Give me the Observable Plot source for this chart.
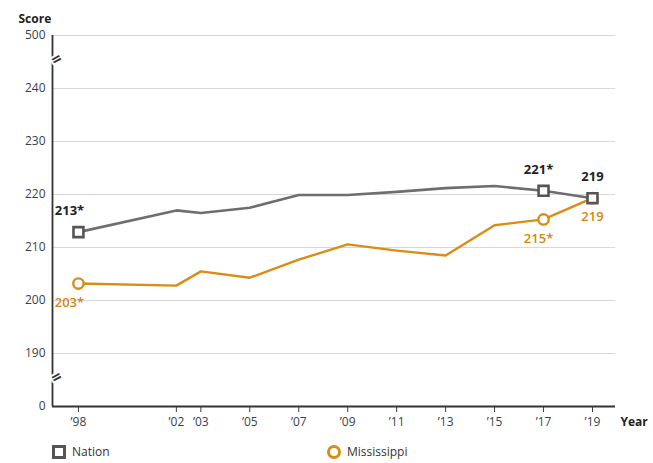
<!DOCTYPE html>
<html>
<head>
<meta charset="utf-8">
<script src="https://cdn.jsdelivr.net/npm/d3@7"></script>
<script src="https://cdn.jsdelivr.net/npm/@observablehq/plot@0.6"></script>
<style>
  body { margin: 0; background: #fff; font-family: "Open Sans", sans-serif; }
  #legend { position: relative; height: 23px; font-size: 12px; color: #333; }
  .item { position: absolute; top: 3px; display: flex; align-items: center; gap: 6px; }
  .sq { width: 8px; height: 8px; border: 3px solid #555; background: #fff; }
  .ci { width: 8px; height: 8px; border: 3px solid #d98c16; border-radius: 50%; background: #fff; }
</style>
</head>
<body>
<div id="chart"></div>
<div id="legend">
  <div class="item" style="left:52px"><div class="sq"></div><span>Nation</span></div>
  <div class="item" style="left:327px"><div class="ci"></div><span>Mississippi</span></div>
</div>
<script>
const years = [1998, 2002, 2003, 2005, 2007, 2009, 2011, 2013, 2015, 2017, 2019];
const nation = [212.9, 217.0, 216.5, 217.5, 219.9, 219.9, 220.5, 221.2, 221.6, 220.7, 219.3];
const mississippi = [203.2, 202.8, 205.5, 204.3, 207.7, 210.6, 209.4, 208.5, 214.2, 215.3, 219.3];
const nationLabels = ["213*", "", "", "", "", "", "", "", "", "221*", "219"];
const msLabels = ["203*", "", "", "", "", "", "", "", "", "215*", "219"];
const yTickValues = [0, 190, 200, 210, 220, 230, 240, 500];
const xTickValues = years;

// broken axis: 0 and 500 sit one band beyond 190 and 240
const ty = v => v === 0 ? 180 : v === 500 ? 250 : v;
const yTicks = yTickValues.map(ty);
const yLabel = new Map(yTickValues.map(v => [ty(v), String(v)]));

const nationData = years.map((y, i) => ({year: y, value: nation[i], label: nationLabels[i]}));
const msData = years.map((y, i) => ({year: y, value: mississippi[i], label: msLabels[i]}));

const xDomain = [1996.94, 2019.94];
const NAT = "#6e6e6e", NATMK = "#555", MS = "#d98c16", MSTXT = "#d4870f";

const labelMarks = [];
const offsets = {1998: -9, 2017: -5, 2019: 0};
for (const yr of [1998, 2017, 2019]) {
  labelMarks.push(Plot.text(nationData.filter(d => d.label && d.year === yr), {x: "year", y: "value", text: "label", dy: -21, dx: offsets[yr], fill: "#222", fontWeight: "bold", fontSize: 13}));
  labelMarks.push(Plot.text(msData.filter(d => d.label && d.year === yr), {x: "year", y: "value", text: "label", dy: 19, dx: offsets[yr], fill: MSTXT, fontWeight: 600, fontSize: 13}));
}

const plot = Plot.plot({
  width: 653,
  height: 440,
  marginTop: 35,
  marginBottom: 34,
  marginLeft: 52,
  marginRight: 38,
  style: {fontFamily: "Open Sans, sans-serif", fontSize: "12px", color: "#3a3f4a", background: "#fff"},
  x: {domain: xDomain, ticks: xTickValues, tickFormat: d => "\u2019" + String(d).slice(2), tickSize: 6, tickPadding: 5, label: null},
  y: {domain: [180, 250], ticks: yTicks, tickFormat: d => yLabel.get(d), tickSize: 0, tickPadding: 7, label: null},
  marks: [
    Plot.gridY(yTicks.filter(d => d !== 180), {stroke: "#d8d8d8", strokeOpacity: 1, strokeWidth: 1}),
    Plot.ruleY([180], {stroke: "#333", strokeWidth: 1.8}),
    Plot.ruleX([xDomain[0]], {stroke: "#333", strokeWidth: 1.8}),
    // axis breaks
    Plot.text([185, 245], {y: d => d, frameAnchor: "left", text: () => "=", fontSize: 17, rotate: -28, fill: "#333", stroke: "#fff", strokeWidth: 4, fontWeight: "bold"}),
    Plot.line(msData, {x: "year", y: "value", stroke: MS, strokeWidth: 2.4}),
    Plot.dot(msData.filter(d => d.label), {x: "year", y: "value", r: 5.2, stroke: MS, strokeWidth: 2.4, fill: "#fff"}),
    Plot.line(nationData, {x: "year", y: "value", stroke: NAT, strokeWidth: 2.6}),
    Plot.dot(nationData.filter(d => d.label), {x: "year", y: "value", symbol: "square", r: 5.6, stroke: NATMK, strokeWidth: 2.6, fill: "#fff"}),
    ...labelMarks,
    Plot.text(["Score"], {frameAnchor: "top-left", text: d => d, dx: -34, dy: -21, fontWeight: "bold", fill: "#222", textAnchor: "start", fontSize: 12}),
    Plot.text(["Year"], {frameAnchor: "bottom-right", text: d => d, dx: 5, dy: 19, fontWeight: "bold", fill: "#222", textAnchor: "start", fontSize: 12})
  ]
});
document.getElementById("chart").appendChild(plot);
</script>
</body>
</html>
